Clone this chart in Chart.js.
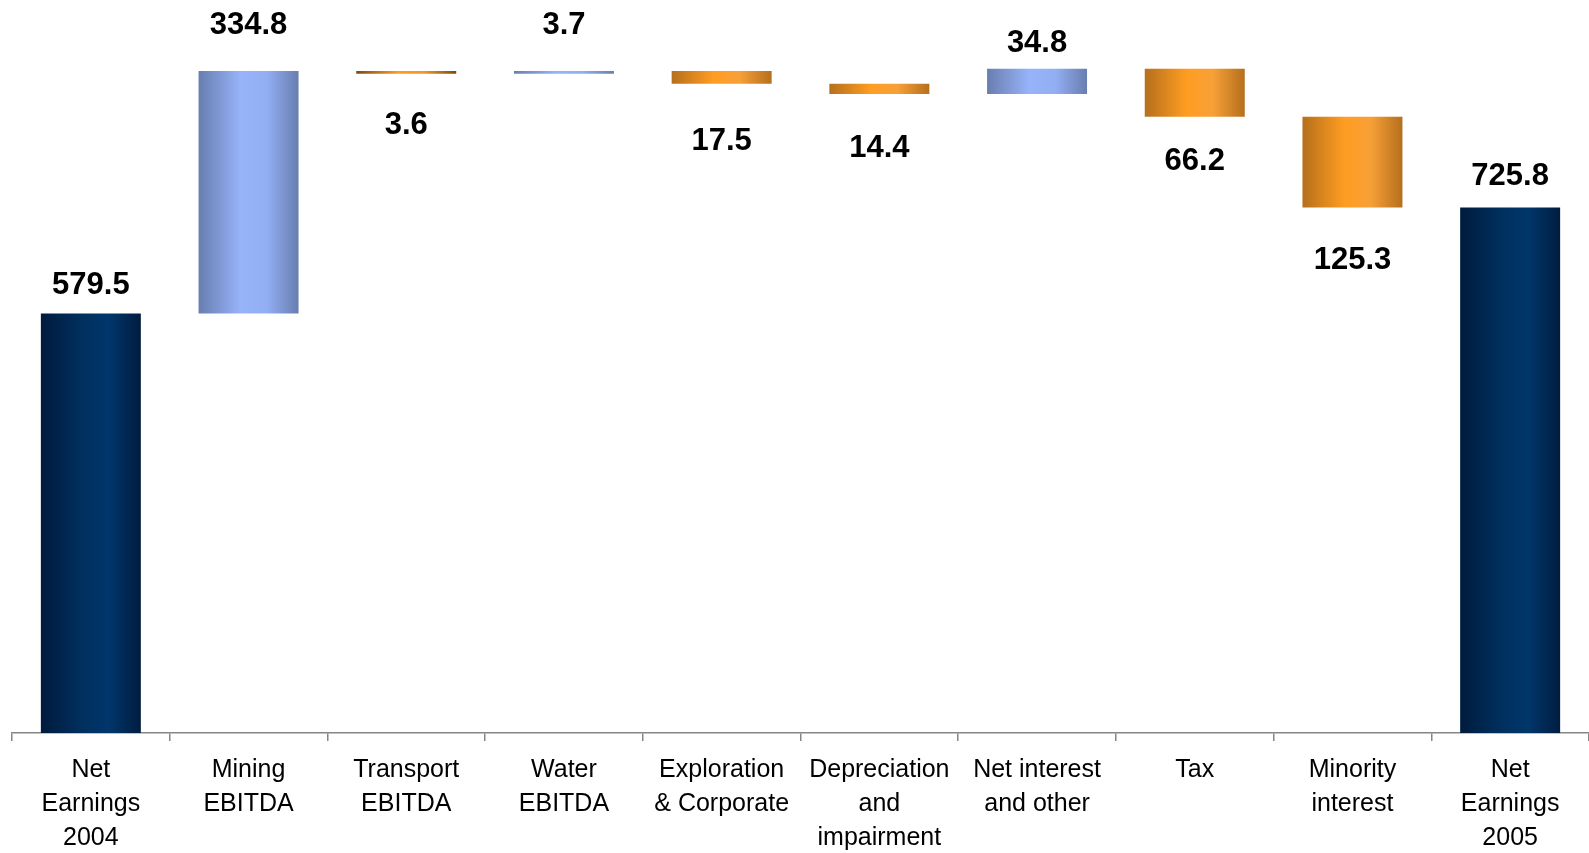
<!DOCTYPE html>
<html>
<head>
<meta charset="utf-8">
<script src="https://cdn.jsdelivr.net/npm/chart.js@4"></script>
<style>
  html, body { margin: 0; padding: 0; background: #fff; }
  #wrap { width: 1589px; height: 853px; }
</style>
</head>
<body>
<div id="wrap"><canvas id="myChart1" width="1589" height="853"></canvas></div>
<script>
// categories (multi-line) and the waterfall values
const categories = [
  ["Net", "Earnings", "2004"],
  ["Mining", "EBITDA"],
  ["Transport", "EBITDA"],
  ["Water", "EBITDA"],
  ["Exploration", "& Corporate"],
  ["Depreciation", "and", "impairment"],
  ["Net interest", "and other"],
  ["Tax"],
  ["Minority", "interest"],
  ["Net", "Earnings", "2005"]
]
const changes = [579.5, 334.8, -3.6, 3.7, -17.5, -14.4, 34.8, -66.2, -125.3, 725.8]
const isTotal = [true, false, false, false, false, false, false, false, false, true]
const yMin = 0
const yMax = 1000

// build floating bar ranges from the running total
let running = 0
const ranges = changes.map((v, i) => {
  if (isTotal[i]) {
    running = v
    return [0, v]
  }
  const start = running
  running = running + v
  return [start, running]
})

const barPct = 0.634

function barGradient(ctx, i) {
  const chart = ctx.chart
  const area = chart.chartArea
  if (!area) return '#003366'
  const xs = chart.scales.x
  const cx = xs.getPixelForValue(i)
  const w = (area.right - area.left) / categories.length * barPct
  const g = chart.ctx.createLinearGradient(cx - w / 2, 0, cx + w / 2, 0)
  let stops
  if (isTotal[i]) {
    stops = ['#001b3d', '#00305f', '#00366b', '#001d40']
  } else if (changes[i] >= 0) {
    stops = ['#687eb0', '#97b3f9', '#93aff4', '#687eb0']
  } else if (Math.abs(changes[i]) < 10) {
    stops = ['#7a4a10', '#ff9c22', '#f0962a', '#7a4a10']
  } else {
    stops = ['#b56f1c', '#ff9d22', '#f7a038', '#b56f1c']
  }
  g.addColorStop(0, stops[0])
  g.addColorStop(0.42, stops[1])
  g.addColorStop(0.68, stops[2])
  g.addColorStop(1, stops[3])
  return g
}

const valueLabels = {
  id: 'valueLabels',
  afterDatasetsDraw(chart, args, opts) {
    const ctx = chart.ctx
    const meta = chart.getDatasetMeta(0)
    ctx.save()
    ctx.font = 'bold 31px "Liberation Sans", Arial, sans-serif'
    ctx.fillStyle = '#000'
    ctx.textAlign = 'center'
    ctx.textBaseline = 'middle'
    meta.data.forEach((bar, i) => {
      const top = Math.min(bar.y, bar.base)
      const bottom = Math.max(bar.y, bar.base)
      const gap = opts.gaps[i]
      const y = (isTotal[i] || changes[i] >= 0) ? top - gap : bottom + gap
      ctx.fillText(Math.abs(changes[i]).toFixed(1), bar.x, y)
    })
    ctx.restore()
  }
}

const barc = document.getElementById('myChart1').getContext('2d')
const myChart1 = new Chart(barc, {
  type: 'bar',
  data: {
    labels: categories,
    datasets: [{
      data: ranges,
      backgroundColor: (c) => barGradient(c, c.dataIndex),
      borderWidth: 0,
      borderSkipped: false,
      barPercentage: barPct,
      categoryPercentage: 1
    }]
  },
  options: {
    responsive: false,
    animation: false,
    layout: { padding: { left: 12, right: 0, top: 9, bottom: 0 } },
    plugins: {
      legend: { display: false },
      tooltip: { enabled: false },
      // label distance from the bar edge, px
      valueLabels: { gaps: [28, 46, 52, 46, 58, 54, 25, 45, 53, 31] }
    },
    scales: {
      x: {
        afterFit: (scale) => { scale.height = 120 },
        border: { display: true, color: '#868686', width: 1.5 },
        grid: {
          display: true,
          offset: true,
          drawOnChartArea: false,
          drawTicks: true,
          tickLength: 8,
          color: '#868686',
          lineWidth: 1.5
        },
        ticks: {
          color: '#000',
          padding: 12,
          maxRotation: 0,
          autoSkip: false,
          font: { family: '"Liberation Sans", Arial, sans-serif', size: 25, lineHeight: 1.36 }
        }
      },
      y: {
        display: false,
        min: yMin,
        max: yMax
      }
    }
  },
  plugins: [valueLabels]
})
</script>
</body>
</html>
